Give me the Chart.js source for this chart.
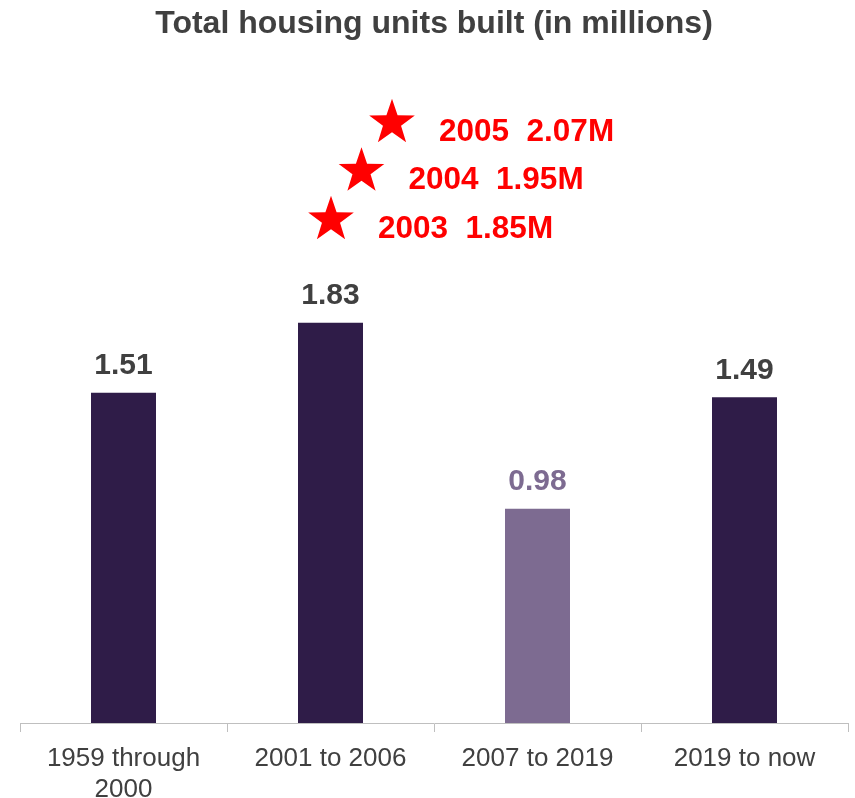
<!DOCTYPE html>
<html>
<head>
<meta charset="utf-8">
<title>Total housing units built</title>
<script src="https://cdn.jsdelivr.net/npm/chart.js@4.4.1/dist/chart.umd.min.js"></script>
<style>
  html, body { margin: 0; padding: 0; background: #ffffff; }
  #wrap { width: 855px; height: 798px; }
</style>
</head>
<body>
<div id="wrap"><canvas id="housingChart"></canvas></div>
<script>
// --- data ---
const periods = [['1959 through', '2000'], '2001 to 2006', '2007 to 2019', '2019 to now'];
const unitsBuilt = [1.51, 1.83, 0.98, 1.49];
const barColors = ['#2f1c48', '#2f1c48', '#7d6b91', '#2f1c48'];
const labelColors = ['#404040', '#404040', '#7d6b91', '#404040'];

// peak years called out above the 2001-2006 bar
const peakYears = ['2003', '2004', '2005'];
const peakUnits = [1.85, 1.95, 2.07];
const peakBarIndex = 1;

const FONT = '"Liberation Sans", Arial, Helvetica, sans-serif';
const TEXT_GREY = '#404040';

function drawStar(ctx, cx, cy, outer, inner) {
    ctx.beginPath();
    for (let i = 0; i < 10; i++) {
        const r = i % 2 === 0 ? outer : inner;
        const a = -Math.PI / 2 + i * Math.PI / 5;
        const x = cx + r * Math.cos(a);
        const y = cy + r * Math.sin(a);
        if (i === 0) ctx.moveTo(x, y); else ctx.lineTo(x, y);
    }
    ctx.closePath();
    ctx.fill();
}

// value labels on top of each bar
const valueLabels = {
    id: 'valueLabels',
    afterDatasetsDraw(chart) {
        const { ctx } = chart;
        const meta = chart.getDatasetMeta(0);
        ctx.save();
        ctx.font = 'bold 30px ' + FONT;
        ctx.textAlign = 'center';
        ctx.textBaseline = 'alphabetic';
        meta.data.forEach((bar, i) => {
            ctx.fillStyle = labelColors[i];
            ctx.fillText(unitsBuilt[i].toFixed(2), bar.x, bar.y - 18.5);
        });
        ctx.restore();
    }
};

// red stars stacked up and to the right of the peak bar
const peakCallouts = {
    id: 'peakCallouts',
    afterDatasetsDraw(chart) {
        const { ctx } = chart;
        const bar = chart.getDatasetMeta(0).data[peakBarIndex];
        ctx.save();
        ctx.fillStyle = '#ff0000';
        ctx.font = 'bold 31.5px ' + FONT;
        ctx.textAlign = 'left';
        ctx.textBaseline = 'alphabetic';
        peakYears.forEach((year, i) => {
            const sx = bar.x + 0.5 + i * 30.5;
            const sy = bar.y - 103 - i * 48.5;
            drawStar(ctx, sx, sy, 24, 9.5);
            ctx.fillText(year + '  ' + peakUnits[i].toFixed(2) + 'M', sx + 47, sy + 18);
        });
        ctx.restore();
    }
};

const ctx = document.getElementById('housingChart').getContext('2d');
new Chart(ctx, {
    type: 'bar',
    data: {
        labels: periods,
        datasets: [{
            data: unitsBuilt,
            backgroundColor: barColors,
            borderWidth: 0,
            categoryPercentage: 1,
            barPercentage: 0.314
        }]
    },
    options: {
        responsive: true,
        maintainAspectRatio: false,
        animation: false,
        layout: { padding: { left: 20, right: 7, top: 0, bottom: 0 } },
        plugins: {
            legend: { display: false },
            tooltip: { enabled: false },
            title: {
                display: true,
                text: 'Total housing units built (in millions)',
                color: TEXT_GREY,
                font: { family: FONT, size: 32, weight: 'bold' },
                padding: { top: 5, bottom: 23.6 }
            }
        },
        scales: {
            y: {
                display: false,
                min: 0,
                max: 3
            },
            x: {
                afterFit(scale) { scale.height = 75; },
                border: { display: true, color: '#bfbfbf', width: 1 },
                grid: {
                    offset: true,
                    drawOnChartArea: false,
                    drawTicks: true,
                    tickLength: 9,
                    color: '#bfbfbf'
                },
                ticks: {
                    color: TEXT_GREY,
                    padding: 11,
                    maxRotation: 0,
                    autoSkip: false,
                    font: { family: FONT, size: 26, lineHeight: 1.2 }
                }
            }
        }
    },
    plugins: [valueLabels, peakCallouts]
});
</script>
</body>
</html>
